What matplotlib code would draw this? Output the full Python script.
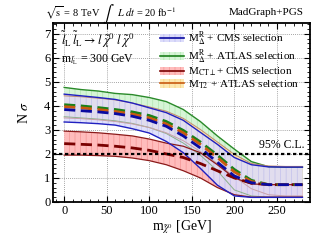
import numpy as np
import matplotlib.pyplot as plt
from matplotlib.patches import Patch
from matplotlib.lines import Line2D
from matplotlib.ticker import MultipleLocator

plt.rcParams['font.family'] = ['Liberation Serif', 'DejaVu Serif']
plt.rcParams['mathtext.fontset'] = 'stix'
plt.rcParams['hatch.linewidth'] = 0.4

# neutralino mass [GeV]
mchi = [0, 20, 40, 60, 80, 100, 120, 140, 160, 180, 200, 220, 240, 260, 280]

# M_Delta^R + CMS
cms_r_mid = [3.85, 3.80, 3.75, 3.68, 3.57, 3.40, 3.15, 2.75, 2.25, 1.65, 1.08, 0.80, 0.72, 0.72, 0.72]
cms_r_up = [4.49, 4.42, 4.35, 4.27, 4.12, 3.92, 3.72, 3.40, 2.90, 2.40, 1.85, 1.55, 1.46, 1.45, 1.45]
cms_r_lo = [3.33, 3.30, 3.26, 3.20, 3.05, 2.87, 2.52, 2.05, 1.40, 0.70, 0.25, 0.19, 0.19, 0.19, 0.19]

# M_Delta^R + ATLAS
atl_r_mid = [4.05, 4.00, 3.93, 3.85, 3.75, 3.60, 3.35, 2.98, 2.50, 1.95, 1.35, 0.90, 0.72, 0.72, 0.72]
atl_r_up = [4.77, 4.68, 4.62, 4.52, 4.47, 4.35, 4.18, 3.85, 3.35, 2.75, 2.20, 1.68, 1.47, 1.45, 1.45]
atl_r_lo = [3.55, 3.50, 3.45, 3.38, 3.27, 3.10, 2.85, 2.45, 1.95, 1.30, 0.50, 0.25, 0.20, 0.20, 0.20]

# M_CT_perp + CMS
mct_mid = [2.43, 2.40, 2.37, 2.32, 2.25, 2.15, 2.00, 1.85, 1.60, 1.30, 1.00, 0.78, 0.72, 0.72, 0.72]
mct_up = [2.95, 2.92, 2.88, 2.82, 2.75, 2.62, 2.45, 2.32, 2.05, 1.55, 1.00, 0.75, 0.72, 0.72, 0.72]
mct_lo = [1.95, 1.95, 1.93, 1.90, 1.83, 1.72, 1.55, 1.30, 1.00, 0.60, 0.30, 0.20, 0.20, 0.20, 0.20]

# M_T2 + ATLAS
mt2_mid = [3.97, 3.92, 3.85, 3.77, 3.66, 3.50, 3.25, 2.88, 2.40, 1.85, 1.25, 0.85, 0.72, 0.72, 0.72]
mt2_up = [4.42, 4.38, 4.32, 4.25, 4.12, 3.96, 3.78, 3.48, 3.02, 2.50, 1.98, 1.60, 1.50, 1.48, 1.48]
mt2_lo = [3.50, 3.47, 3.42, 3.35, 3.25, 3.10, 2.88, 2.55, 2.10, 1.60, 1.05, 0.55, 0.30, 0.25, 0.25]

cl95 = 2.0

fig = plt.figure(figsize=(3.32, 2.43), dpi=100)
ax = fig.add_axes([0.16, 0.169, 0.774, 0.736])

bands = [
    # mid, up, lo, fill, hatch, edge, dash
    (atl_r_mid, atl_r_up, atl_r_lo, '#d6f5d6', '#a8e0a8', '#2a8a2a', '#1a801a'),
    (mt2_mid, mt2_up, mt2_lo, '#fde8b0', '#f5c870', '#c08a70', '#c85a10'),
    (mct_mid, mct_up, mct_lo, '#ffbcbc', '#f08c8c', '#8b1a1a', '#7a0000'),
    (cms_r_mid, cms_r_up, cms_r_lo, '#dcdcfa', '#b4b4f0', '#2020c0', '#0a0aa0'),
]

for i, (mid, up, lo, fc, hc, ec, dc) in enumerate(bands):
    ax.fill_between(mchi, lo, up, facecolor=fc, edgecolor=hc, hatch='|||',
                    linewidth=0, alpha=0.85 if i == 3 else 1.0, zorder=1 + i)

# band edges
ax.plot(mchi, atl_r_up, color='#2a8a2a', lw=1.0, zorder=6)
ax.plot(mchi, atl_r_lo, color='#8ab08a', lw=0.7, zorder=6)
ax.plot(mchi, mt2_up, color='#c08a70', lw=0.7, zorder=6)
ax.plot(mchi, mt2_lo, color='#c8a0a8', lw=0.7, zorder=6)
ax.plot(mchi, mct_up, color='#8b1a1a', lw=0.9, zorder=6)
ax.plot(mchi, mct_lo, color='#8b1a1a', lw=0.9, zorder=6)
ax.plot(mchi, cms_r_up, color='#2020c0', lw=1.0, zorder=6)
ax.plot(mchi, cms_r_lo, color='#2020c0', lw=1.0, zorder=6)

# central values
ax.plot(mchi, mct_mid, color='#7a0000', lw=2.0, ls=(0, (4, 2)), zorder=7)
ax.plot(mchi, atl_r_mid, color='#1a801a', lw=2.0, ls=(0, (4, 2)), zorder=7)
ax.plot(mchi, mt2_mid, color='#c85a10', lw=2.0, ls=(0, (4, 2)), zorder=7)
ax.plot(mchi, cms_r_mid, color='#0a0aa0', lw=2.0, ls=(0, (4, 2)), zorder=7)

ax.axhline(cl95, color='black', lw=1.6, ls=(0, (1.5, 1.2)), zorder=8)
ax.text(283, cl95 + 0.12, '95% C.L.', ha='right', va='bottom', fontsize=8.5, zorder=9)

ax.set_xlim(-13, 289)
ax.set_ylim(0, 7.45)
ax.xaxis.set_major_locator(MultipleLocator(50))
ax.xaxis.set_minor_locator(MultipleLocator(10))
ax.yaxis.set_major_locator(MultipleLocator(1))
ax.yaxis.set_minor_locator(MultipleLocator(0.2))
ax.tick_params(which='both', direction='in', top=True, right=True, labelsize=9, pad=2)
ax.tick_params(which='major', length=4, width=0.8)
ax.tick_params(which='minor', length=2, width=0.6)
ax.grid(True, which='major', color='#888888', ls=(0, (1, 1.5)), lw=0.6)
ax.set_axisbelow(True)
for s in ax.spines.values():
    s.set_linewidth(1.3)

ax.set_xlabel(r'm$_{\tilde{\chi}^0}$ [GeV]', fontsize=10, labelpad=1)
ax.set_ylabel(r'N $\sigma$', fontsize=10, labelpad=9)

ax.text(0.03, 0.965, r'$\tilde{l}_{\mathrm{L}}\,\tilde{l}_{\mathrm{L}} \rightarrow l\;\tilde{\chi}^0\;l\;\tilde{\chi}^0$',
        transform=ax.transAxes, ha='left', va='top', fontsize=9, zorder=9)
ax.text(0.03, 0.835, r'm$_{\tilde{l}_{\mathrm{L}}}$ = 300 GeV', transform=ax.transAxes,
        ha='left', va='top', fontsize=8.5, zorder=9)

labels = [r'M$_{\Delta}^{\mathrm{R}}$ + CMS selection',
          r'M$_{\Delta}^{\mathrm{R}}$ + ATLAS selection',
          r'M$_{\mathrm{CT}\perp}$+ CMS selection',
          r'M$_{\mathrm{T2}}$ + ATLAS selection']
order = [3, 0, 2, 1]
handles = []
for k in order:
    mid, up, lo, fc, hc, ec, dc = bands[k]
    handles.append((Patch(facecolor=fc, edgecolor=hc, hatch='|||', linewidth=0),
                    Line2D([], [], color=dc, lw=1.2)))
leg = ax.legend(handles, labels, loc='upper right', bbox_to_anchor=(0.985, 1.0),
                frameon=False, fontsize=8, handlelength=2.2, handleheight=0.8,
                labelspacing=0.0, handletextpad=0.4, borderaxespad=0.2)
leg.set_zorder(10)

fig.text(0.302, 0.95, r'$\sqrt{\mathrm{s}}$ = 8 TeV', fontsize=7.5, va='center', ha='right')
fig.text(0.307, 0.94, r'$\int$', fontsize=12, va='center', ha='left')
fig.text(0.352, 0.95, r'$L\ dt$ = 20 fb$^{-1}$', fontsize=7.5, va='center', ha='left')
fig.text(0.915, 0.95, 'MadGraph+PGS', fontsize=8, va='center', ha='right')

fig.savefig('out.png', dpi=100)
